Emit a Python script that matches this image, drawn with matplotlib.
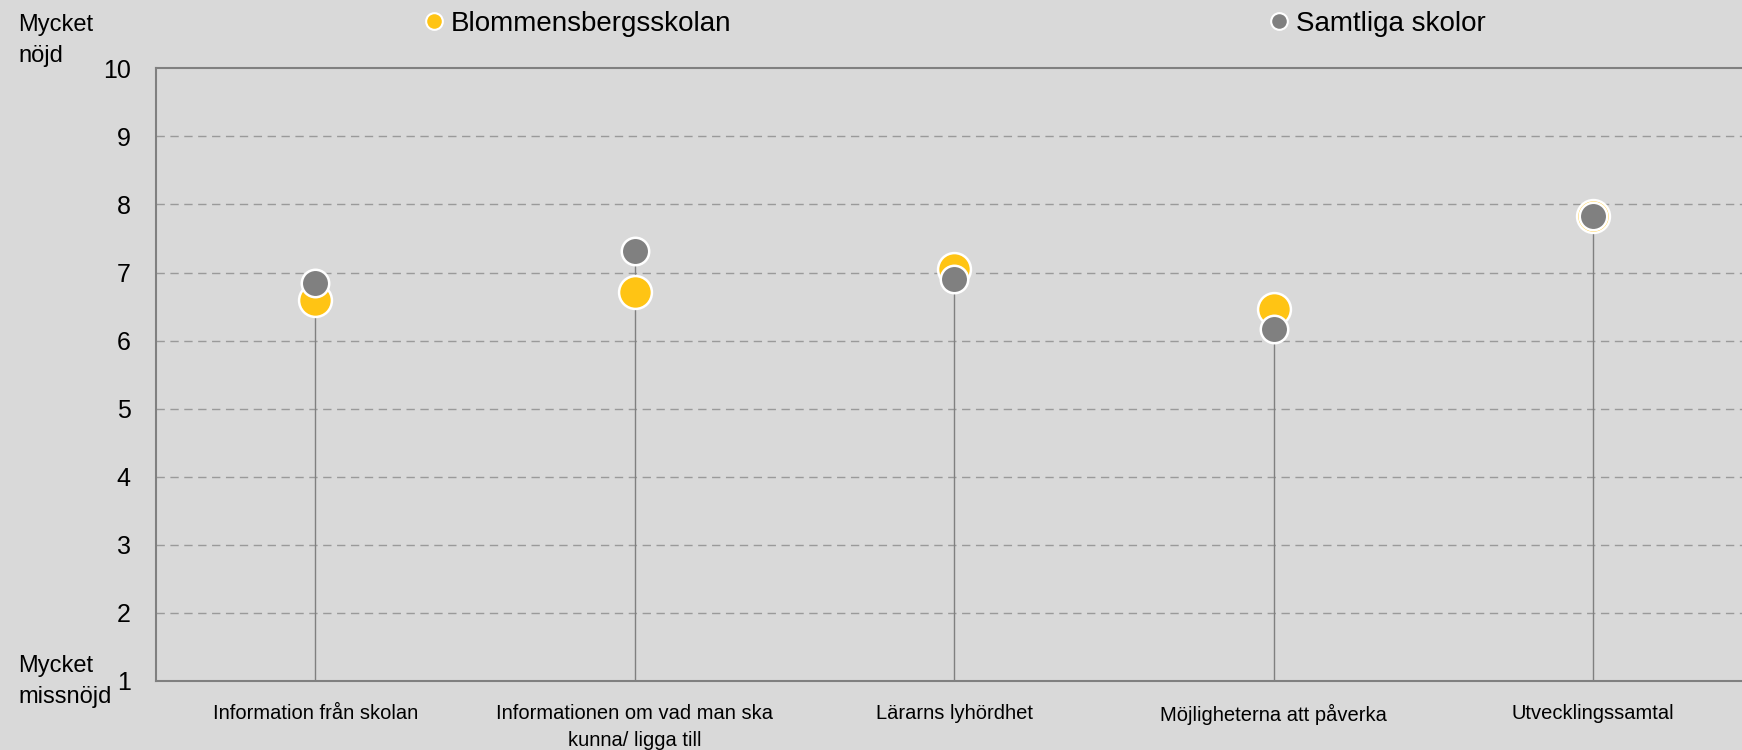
import matplotlib.pyplot as plt
from matplotlib.lines import Line2D

plt.rcParams['font.family'] = ['Liberation Sans', 'DejaVu Sans']

categories = ["Information från skolan",
              "Informationen om vad man ska\nkunna/ ligga till",
              "Lärarns lyhördhet",
              "Möjligheterna att påverka",
              "Utvecklingssamtal"]
school = [6.59, 6.72, 7.05, 6.46, 7.83]
all_schools = [6.85, 7.31, 6.90, 6.17, 7.83]
y_ticks = [1, 2, 3, 4, 5, 6, 7, 8, 9, 10]

bg = '#D9D9D9'
yellow = '#FFC414'
grey = '#808080'

fig = plt.figure(figsize=(17.42, 7.5), dpi=100, facecolor=bg)
ax = fig.add_axes([0.0893, 0.092, 0.917, 0.817], facecolor=bg)

x = range(len(categories))
# stems up to the higher of the two points
for i in x:
    ax.vlines(i, 1, max(school[i], all_schools[i]), color=grey, lw=1, zorder=2)

ax.scatter(x, school, s=560, color=yellow, edgecolor='white', linewidth=1.8, zorder=3)
ax.scatter(x, all_schools, s=390, color=grey, edgecolor='white', linewidth=1.8, zorder=4)

ax.set_xlim(-0.5, len(categories) - 0.5)
ax.set_ylim(1, 10)
ax.set_yticks(y_ticks)
ax.set_yticklabels([str(t) for t in y_ticks], fontsize=18)
ax.set_xticks(list(x))
ax.set_xticklabels(categories, fontsize=14.5, linespacing=1.55)
ax.tick_params(axis='both', length=0)
ax.tick_params(axis='y', pad=18)
ax.tick_params(axis='x', pad=16.5)

for t in y_ticks[1:-1]:
    ax.axhline(t, color='#9A9A9A', lw=1, ls=(0, (6, 4)), zorder=1)

for side in ['left', 'bottom', 'top']:
    ax.spines[side].set_color(grey)
    ax.spines[side].set_linewidth(1.5)
ax.spines['right'].set_visible(False)

fig.text(0.0103, 0.982, "Mycket\nnöjd", fontsize=17, va='top', ha='left', linespacing=1.55)
fig.text(0.0103, 0.091, "Mycket\nmissnöjd", fontsize=17, va='center', ha='left', linespacing=1.55)

names = ["Blommensbergsskolan", "Samtliga skolor"]
colors = [yellow, grey]
leg_x = [0.2445, 0.7295]
for name, c, lx in zip(names, colors, leg_x):
    h = Line2D([], [], marker='o', ls='', markersize=12, markerfacecolor=c,
               markeredgecolor='white', markeredgewidth=1.5)
    fig.legend([h], [name], loc='center left', bbox_to_anchor=(lx, 0.968), frameon=False,
               fontsize=20, handlelength=0.6, handletextpad=0.3, borderpad=0, borderaxespad=0)

fig.savefig('out.png', dpi=100, facecolor=bg)
